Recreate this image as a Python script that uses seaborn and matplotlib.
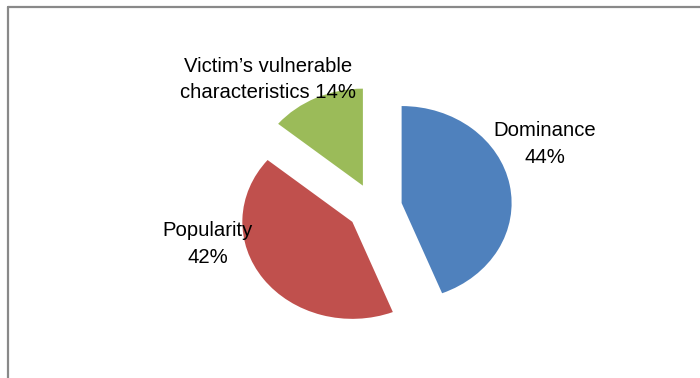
import matplotlib
matplotlib.use("Agg")
import matplotlib.pyplot as plt
import seaborn as sns
from matplotlib.lines import Line2D

categories = ["Dominance", "Popularity", "Victim\u2019s vulnerable\ncharacteristics"]
values = [44, 42, 14]
label_texts = ["Dominance\n44%", "Popularity\n42%", "Victim\u2019s vulnerable\ncharacteristics 14%"]
colors = ["#4F81BD", "#C0504D", "#9BBB59"]

sns.set_theme(style="white")
plt.rcParams["font.family"] = ["Liberation Sans", "DejaVu Sans"]

W, H = 700, 378
fig = plt.figure(figsize=(W / 100, H / 100), dpi=100)
ax = fig.add_axes([0, 0, 1, 1])

ax.pie(values, colors=colors, startangle=90, counterclock=False,
       explode=[0.25] * len(values), radius=1.0,
       wedgeprops=dict(linewidth=0))

# pie centre in pixels and radii (px per data unit)
cx, cy, rx, ry = 374.6, 207.6, 110.0, 97.0
ax.set_aspect("auto")
ax.set_xlim(-cx / rx, (W - cx) / rx)
ax.set_ylim((cy - H) / ry, cy / ry)
ax.axis("off")

def px(x, y):
    return (x - cx) / rx, (cy - y) / ry

label_pos = [(545, 163), (208, 263), (268, 98)]
for txt, (lx, ly) in zip(label_texts, label_pos):
    x, y = px(lx, ly)
    ax.text(x, y, txt, ha="center", va="baseline", fontsize=14.6,
            color="black", linespacing=1.5, multialignment="center")

# chart border (left and top only, as in the reference crop)
fig.add_artist(Line2D([8 / W, 1], [1 - 7 / H, 1 - 7 / H], transform=fig.transFigure,
                      color="#898989", linewidth=1.6))
fig.add_artist(Line2D([8 / W, 8 / W], [0, 1 - 7 / H], transform=fig.transFigure,
                      color="#898989", linewidth=1.6))

fig.savefig("out.png", dpi=100, facecolor="white")
